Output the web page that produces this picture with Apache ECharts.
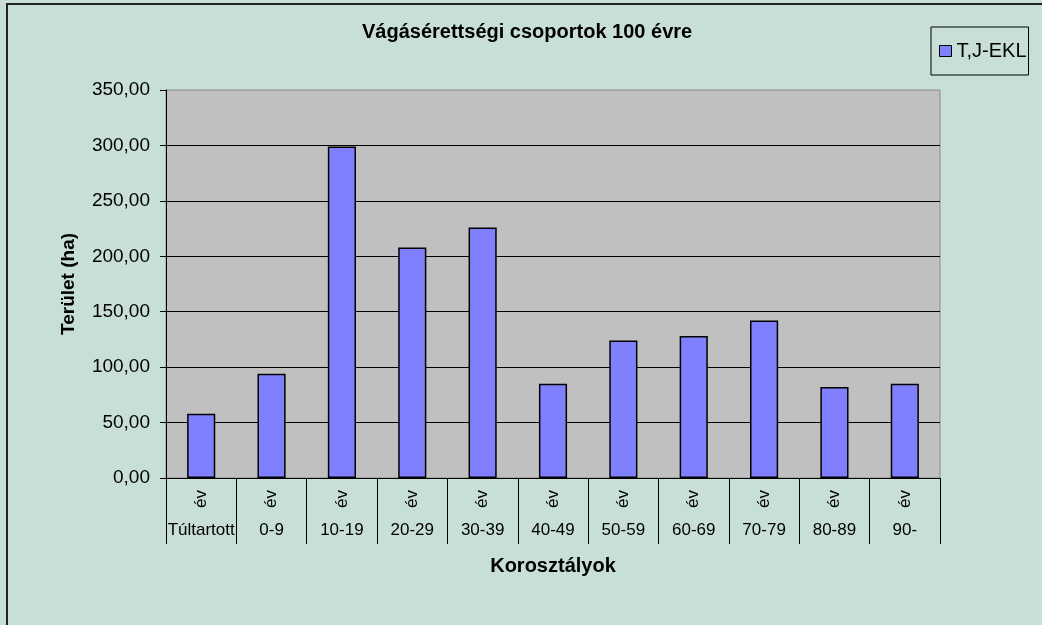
<!DOCTYPE html>
<html>
<head>
<meta charset="utf-8">
<script src="https://cdn.jsdelivr.net/npm/echarts@6/dist/echarts.min.js"></script>
<style>
    html, body { margin: 0; padding: 0; background: #C8DFD7; }
    #chart { width: 1042px; height: 625px; }
</style>
</head>
<body>
<div id="chart"></div>
<script>
// korosztályok
var ageClasses = ['Túltartott', '0-9', '10-19', '20-29', '30-39', '40-49', '50-59', '60-69', '70-79', '80-89', '90-'];
// felső sor feliratai
var unitLabels = ['év', 'év', 'év', 'év', 'év', 'év', 'év', 'év', 'év', 'év', 'év'];
// terület (ha)
var areaValues = [58, 94, 299, 208, 226, 85, 124, 128, 142, 82, 85];
var seriesName = 'T,J-EKL';

var font = 'Liberation Sans, Arial, sans-serif';

var myChart = echarts.init(document.getElementById('chart'));
var option = {
    backgroundColor: '#C8DFD7',
    animation: false,
    textStyle: { fontFamily: font, color: '#000' },
    title: {
        text: 'Vágásérettségi csoportok 100 évre',
        left: 362,
        top: 22,
        padding: 0,
        textStyle: { fontFamily: font, fontSize: 20, fontWeight: 'bold', color: '#000' }
    },
    legend: {
        left: 931,
        top: 27,
        padding: [14, 2, 14, 8],
        borderColor: '#000',
        borderWidth: 1,
        itemWidth: 12,
        itemHeight: 11,
        itemGap: 5,
        icon: 'rect',
        itemStyle: { borderColor: '#000', borderWidth: 1 },
        textStyle: { fontFamily: font, fontSize: 20, color: '#000' },
        data: [seriesName]
    },
    graphic: [{
        // keret
        type: 'rect',
        shape: { x: 7, y: 4, width: 1200, height: 800 },
        style: { fill: 'none', stroke: '#222', lineWidth: 2 },
        silent: true
    }],
    grid: {
        left: 166,
        right: 102,
        top: 90,
        bottom: 147,
        show: true,
        backgroundColor: '#C0C0C0',
        borderColor: '#888',
        borderWidth: 1
    },
    xAxis: [
        {
            type: 'category',
            position: 'bottom',
            data: unitLabels,
            axisLine: { lineStyle: { color: '#000', width: 1 } },
            axisTick: { show: true, interval: 0, length: 66, lineStyle: { color: '#000', width: 1 } },
            axisLabel: { interval: 0, rotate: 90, margin: 12, fontSize: 17, color: '#000', fontFamily: font },
            splitLine: { show: false }
        },
        {
            type: 'category',
            position: 'bottom',
            gridIndex: 0,
            data: ageClasses,
            name: 'Korosztályok',
            nameLocation: 'middle',
            nameGap: 78,
            nameTextStyle: { fontFamily: font, fontSize: 20, fontWeight: 'bold', color: '#000' },
            axisLine: { show: false },
            axisTick: { show: false },
            axisLabel: { interval: 0, margin: 44, fontSize: 17, color: '#000', fontFamily: font },
            splitLine: { show: false }
        }
    ],
    yAxis: {
        type: 'value',
        min: 0,
        max: 350,
        interval: 50,
        name: 'Terület (ha)',
        nameLocation: 'middle',
        nameRotate: 90,
        nameGap: 88,
        nameTextStyle: { fontFamily: font, fontSize: 19, fontWeight: 'bold', color: '#000' },
        axisLine: { show: true, lineStyle: { color: '#000', width: 1 } },
        axisTick: { show: true, length: 6, lineStyle: { color: '#000' } },
        axisLabel: {
            margin: 16,
            fontSize: 19,
            color: '#000',
            fontFamily: font,
            formatter: function (v) {
                return v.toFixed(2).replace('.', ',');
            }
        },
        splitLine: { show: true, showMinLine: false, showMaxLine: false, lineStyle: { color: '#000', width: 1 } }
    },
    series: [
        {
            name: seriesName,
            type: 'bar',
            xAxisIndex: 0,
            barWidth: '40%',
            itemStyle: { color: '#8080FF', borderColor: '#000', borderWidth: 1.5 },
            data: areaValues
        }
    ]
};
myChart.setOption(option);
</script>
</body>
</html>
